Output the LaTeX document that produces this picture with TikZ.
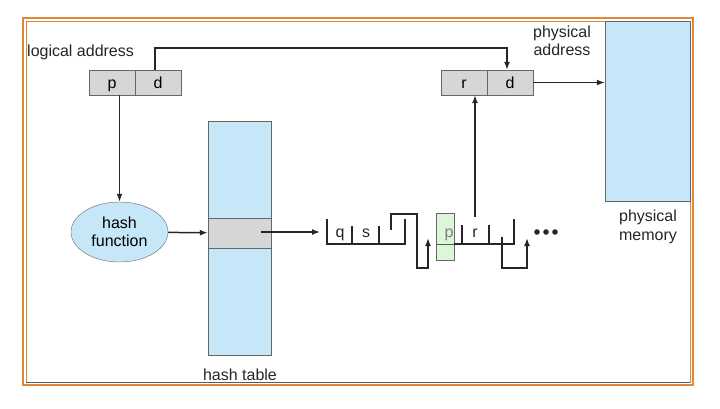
\documentclass[tikz,border=0pt]{standalone}
\usepackage{fontspec}
\setmainfont{Liberation Sans}
\usepackage{xcolor}
\usepackage{tikz}
\usetikzlibrary{positioning}
\usetikzlibrary{shapes.geometric}
\usetikzlibrary{arrows.meta}
\definecolor{cellgray}{HTML}{D4D6D7}
\definecolor{memblue}{HTML}{C6E7F7}
\definecolor{ptrgreen}{HTML}{DDF5D8}
\definecolor{frameorange}{HTML}{E0883A}
\tikzset{
    cellnode/.style = {rectangle, draw=gray!80!black, fill=cellgray, minimum width=46pt, minimum height=25pt, inner sep=0pt, text height=11.5pt, text depth=0pt},
    memnode/.style = {rectangle, draw=gray!80!black, fill=memblue, inner sep=0pt},
    hashnode/.style = {ellipse, draw=gray!80!black, fill=memblue, align=center, minimum width=97pt, minimum height=60pt, inner sep=0pt},
    labelnode/.style = {align=center, inner sep=0pt, text=black!85},
}

\begin{document}
\begin{tikzpicture}[
	x=1pt, y=-1pt,
	font=\fontsize{16}{18.5}\selectfont
]
\tikzset{
    edgea/.style = {-{Latex[length=8pt,width=6pt]}, line width=1.5pt, black!85},
    chainline/.style = {-, line width=1.4pt, black!85}
}
\useasboundingbox (0,0) rectangle (720,408);
% frame
\draw[frameorange, line width=1.6pt] (23,18) rectangle (693,385);
\draw[frameorange, line width=0.7pt] (26,21) rectangle (690,382);
\draw[gray!70!black, line width=0.6pt] (26,382) -- (690,382);
%
\node[memnode, minimum width=85pt, minimum height=180pt] at (647.5,111) (mem) {};
\node[memnode, minimum width=63pt, minimum height=234pt] at (239.5,238) (htab) {};
\node[cellnode, minimum width=63pt, minimum height=30pt] at (239.5,233) (hcell) {};
%
\node[cellnode] at (112,82.5) (lp) {p};
\node[cellnode] at (158,82.5) (ld) {d};
\node[cellnode] at (464,82.5) (pr) {r};
\node[cellnode] at (510,82.5) (pd) {d};
\node[hashnode] at (119.5,232) (hfun) {hash\\function};
%
\node[labelnode, anchor=west] at (27,52) (laddr) {logical address};
\node[labelnode] at (562,41) (paddr) {physical\\address};
\node[labelnode] at (648,227) (pmem) {physical\\memory};
\node[labelnode] at (240,375) (hlab) {hash table};
%
\draw[edgea] (hfun.north |- lp.south) -- (hfun.north);
\draw[edgea] (hfun) -- (hcell);
\coordinate (hptr) at (261,232);
\coordinate (cstart) at (320,232);
\draw[edgea] (hptr) -- (cstart);
\draw[edgea] ([xshift=-3pt]ld.north) -- ++(0,-22) -| ([xshift=-3pt]pd.north);
\draw[edgea] (pd.east) -- (pd.east -| mem.west);
% chain, first entry
\node[labelnode, anchor=base] at (340,237) (eq) {q};
\node[labelnode, anchor=base] at (366,237) (es) {s};
\draw[chainline] (327,219) -- (327,244) -- (405,244) -- (405,219);
\draw[chainline] (352,226) -- (352,244);
\draw[chainline] (379,226) -- (379,244);
\draw[edgea] (391,230) -- (391,214) -- (417,214) -- (417,268) -- (428,268) -- (428,238);
% chain, second entry
\draw[gray!80!black, fill=ptrgreen, line width=0.6pt] (436,213) rectangle (454,260);
\draw[gray!70!black, line width=1pt] (436,244) -- (454,244);
\node[labelnode, anchor=base, text=gray] at (449,237) (ep) {p};
\node[labelnode, anchor=base] at (475,237) (er) {r};
\draw[chainline] (454,244) -- (514,244) -- (514,219);
\draw[chainline] (462,225) -- (462,244);
\draw[chainline] (489,225) -- (489,244);
\draw[edgea] (502,237) -- (502,268) -- (527,268) -- (527,238);
\foreach \dx in {537,546,555}
    \fill[black!85] (\dx,232) circle (2.8);
%
\coordinate (rptr) at (475,217);
\draw[edgea] (rptr) -- (rptr |- pr.south);
\end{tikzpicture}
\end{document}
